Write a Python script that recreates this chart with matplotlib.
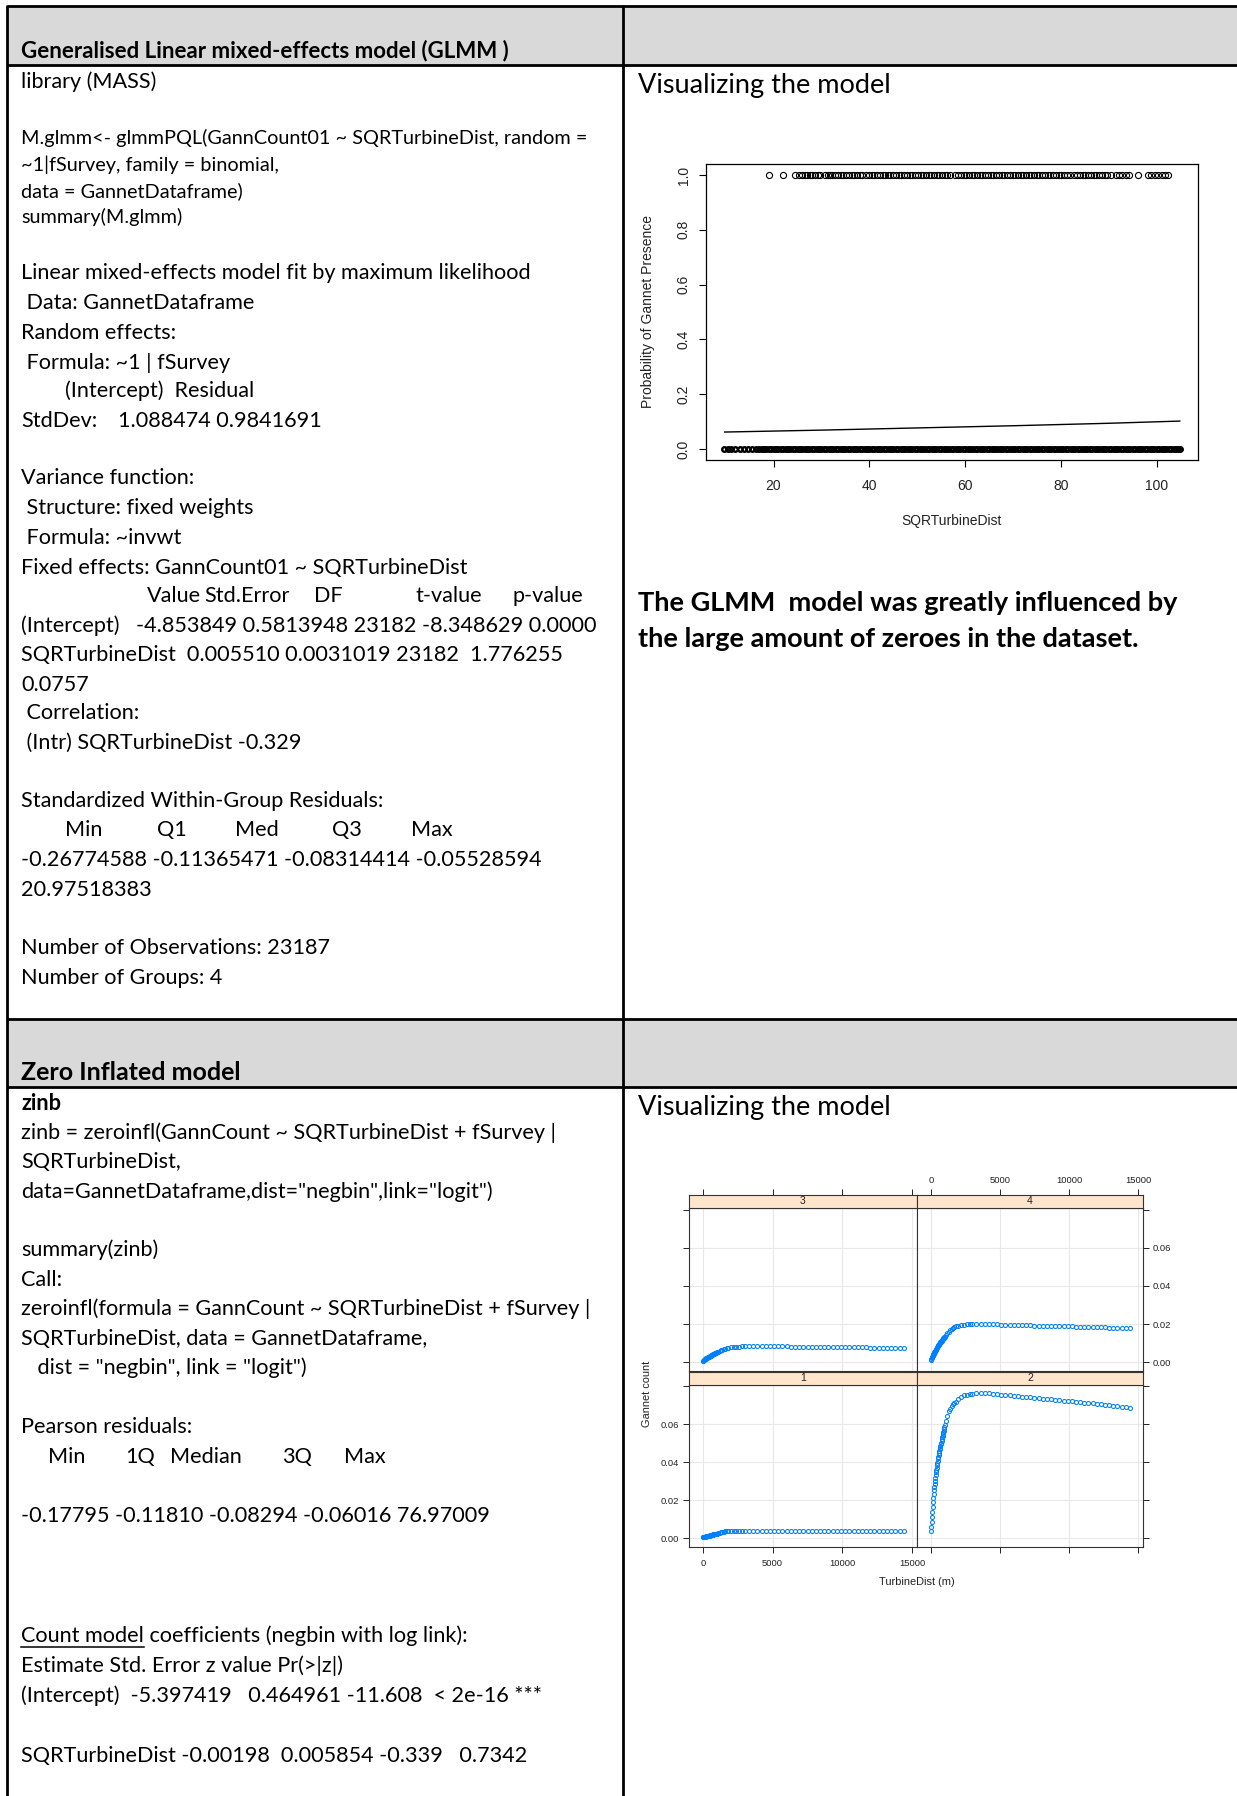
import matplotlib
matplotlib.use("Agg")
import matplotlib.pyplot as plt
from matplotlib.patches import Rectangle

W, H = 1237, 1796
BODY_FONT = "Lato"
PLOT_FONT = "Liberation Sans"

# GLMM plot: SQRTurbineDist of surveys where gannets were present (y = 1)
presence_x = [
    19.0, 21.9, 24.4, 25.4, 26.0, 26.5, 27.0, 27.6, 28.1, 28.7, 29.2, 29.7,
    30.8, 31.3, 31.8, 32.2, 32.9, 33.4, 34.0, 34.6, 35.1, 35.7, 36.3, 36.8,
    37.4, 38.0, 38.5, 39.3, 39.9, 40.5, 41.0, 41.6, 42.2, 42.8, 43.3, 43.9,
    44.4, 45.0, 45.6, 46.1, 46.7, 47.3, 47.8, 48.4, 49.0, 49.5, 50.1, 50.7,
    51.2, 51.8, 52.4, 52.9, 53.5, 54.1, 54.6, 55.2, 55.8, 56.3, 56.9, 57.9,
    58.6, 59.1, 59.7, 60.2, 60.8, 61.4, 61.9, 62.5, 63.1, 63.6, 64.2, 64.8,
    65.3, 65.9, 66.5, 67.0, 67.6, 68.2, 68.7, 69.3, 69.9, 70.4, 71.0, 71.6,
    72.1, 72.7, 73.3, 73.8, 74.4, 75.0, 75.5, 76.1, 76.7, 77.2, 77.8, 78.4,
    78.9, 79.5, 80.1, 80.6, 81.2, 81.8, 82.8, 83.4, 84.0, 84.5, 85.1, 85.7,
    86.2, 86.8, 87.4, 88.0, 88.5, 89.1, 89.7, 90.4, 91.5, 92.2, 92.8, 93.5,
    94.3, 96.1, 98.1, 98.8, 99.6, 100.3, 101.0, 101.7, 102.3,
]
# surveys with no gannets (y = 0) - a near solid band in the picture
absence_x = [
    9.7, 10.4, 11.2, 12.0, 12.9, 13.8, 14.6, 15.5, 16.3, 17.0, 17.5, 18.0,
    18.5, 19.0, 19.5, 20.0, 20.5, 21.0, 21.5, 22.0, 22.5, 23.0,
    23.5, 24.0, 24.5, 25.0, 25.5, 26.0, 26.5, 27.0, 27.5, 28.0,
    28.5, 29.0, 29.5, 30.0, 30.5, 31.0, 31.5, 32.0, 32.5, 33.0,
    33.5, 34.0, 34.5, 35.0, 35.5, 36.0, 36.5, 37.0, 37.5, 38.0,
    38.5, 39.0, 39.5, 40.0, 40.5, 41.0, 41.5, 42.0, 42.5, 43.0,
    43.5, 44.0, 44.5, 45.0, 45.5, 46.0, 46.5, 47.0, 47.5, 48.0,
    48.5, 49.0, 49.5, 50.0, 50.5, 51.0, 51.5, 52.0, 52.5, 53.0,
    53.5, 54.0, 54.5, 55.0, 55.5, 56.0, 56.5, 57.0, 57.5, 58.0,
    58.5, 59.0, 59.5, 60.0, 60.5, 61.0, 61.5, 62.0, 62.5, 63.0,
    63.5, 64.0, 64.5, 65.0, 65.5, 66.0, 66.5, 67.0, 67.5, 68.0,
    68.5, 69.0, 69.5, 70.0, 70.5, 71.0, 71.5, 72.0, 72.5, 73.0,
    73.5, 74.0, 74.5, 75.0, 75.5, 76.0, 76.5, 77.0, 77.5, 78.0,
    78.5, 79.0, 79.5, 80.0, 80.5, 81.0, 81.5, 82.0, 82.5, 83.0,
    83.5, 84.0, 84.5, 85.0, 85.5, 86.0, 86.5, 87.0, 87.5, 88.0,
    88.5, 89.0, 89.5, 90.0, 90.5, 91.0, 91.5, 92.0, 92.5, 93.0,
    93.5, 94.0, 94.5, 95.0, 95.5, 96.0, 96.5, 97.0, 97.5, 98.0,
    98.5, 99.0, 99.5, 100.0, 100.5, 101.0, 101.5, 102.0, 102.5, 103.0,
    103.5, 104.0, 104.5, 104.8,
]
fit_x = [9.8, 30, 50, 70, 90, 104.8]
fit_p = [0.062, 0.069, 0.077, 0.085, 0.094, 0.102]

# Zero inflated model: predicted gannet count vs TurbineDist (m), one panel per survey
turbine_dist = [
    0, 25, 50, 75, 100, 125, 150, 175, 200, 225, 250, 275, 300, 325, 350, 375,
    400, 425, 450, 475, 500, 525, 550, 575, 600, 625, 650, 675, 700, 725, 750,
    775, 800, 825, 850, 875, 900, 925, 950, 975, 1000,
    1100, 1200, 1300, 1400, 1500, 1600, 1700, 1800,
    2000, 2200, 2400, 2600, 2800, 3000,
    3300, 3600, 3900, 4200, 4500, 4800, 5100, 5400, 5700, 6000, 6300, 6600, 6900,
    7200, 7500, 7800, 8100, 8400, 8700, 9000, 9300, 9600, 9900, 10200, 10500,
    10800, 11100, 11400, 11700, 12000, 12300, 12600, 12900, 13200, 13500, 13800,
    14100, 14400,
]
count_survey1 = [
    0.00040, 0.00045, 0.00050, 0.00055, 0.00060, 0.00065, 0.00070, 0.00075, 0.00080, 0.00085,
    0.00090, 0.00095, 0.00100, 0.00105, 0.00110, 0.00115, 0.00120, 0.00125, 0.00130, 0.00135,
    0.00140, 0.00145, 0.00150, 0.00155, 0.00160, 0.00165, 0.00170, 0.00175, 0.00180, 0.00185,
    0.00190, 0.00195, 0.00200, 0.00205, 0.00210, 0.00215, 0.00220, 0.00225, 0.00230, 0.00235,
    0.00240,
    0.0026, 0.0028, 0.0030, 0.0032, 0.0034, 0.0036, 0.0038, 0.0038,
    0.0038, 0.0038, 0.0038, 0.0038, 0.0038, 0.0038,
    0.0038, 0.0038, 0.0038, 0.0038, 0.0038, 0.0038, 0.0038, 0.0038, 0.0038, 0.0038,
    0.0038, 0.0038, 0.0038, 0.0038, 0.0038, 0.0038, 0.0038, 0.0038, 0.0038, 0.0038,
    0.0038, 0.0038, 0.0038, 0.0038, 0.0038, 0.0038, 0.0038, 0.0038, 0.0038, 0.0038,
    0.0038, 0.0038, 0.0038, 0.0038, 0.0038, 0.0038, 0.0038, 0.0038,
]
count_survey2 = [
    0.0035, 0.0060, 0.0085, 0.0110, 0.0140, 0.0165, 0.0188, 0.0210, 0.0232, 0.0252,
    0.0270, 0.0287, 0.0303, 0.0318, 0.0332, 0.0346, 0.0359, 0.0372, 0.0385, 0.0397,
    0.0409, 0.0420, 0.0430, 0.0440, 0.0450, 0.0459, 0.0468, 0.0477, 0.0486, 0.0495,
    0.0504, 0.0513, 0.0522, 0.0531, 0.0540, 0.0549, 0.0558, 0.0567, 0.0576, 0.0585,
    0.0594,
    0.062, 0.0645, 0.067, 0.068, 0.0695, 0.0705, 0.0713, 0.072,
    0.0735, 0.0745, 0.0752, 0.0757, 0.0760, 0.0762,
    0.0763, 0.0763, 0.0763, 0.0763, 0.0762, 0.0759, 0.0757, 0.0755, 0.0752, 0.0750,
    0.0748, 0.0746, 0.0744, 0.0742, 0.0740, 0.0738, 0.0735, 0.0733, 0.0731, 0.0729,
    0.0727, 0.0725, 0.0723, 0.0721, 0.0719, 0.0716, 0.0714, 0.0712, 0.0710, 0.0707,
    0.0705, 0.0702, 0.0700, 0.0697, 0.0694, 0.0692, 0.0689, 0.0686,
]
count_survey3 = [
    0.0007, 0.0008, 0.0010, 0.0011, 0.0013, 0.0014, 0.0016, 0.0017, 0.0018, 0.0019,
    0.0020, 0.0021, 0.0022, 0.0023, 0.0025, 0.0026, 0.0027, 0.0028, 0.0029, 0.0030,
    0.0031, 0.0032, 0.0033, 0.0034, 0.0035, 0.0036, 0.0037, 0.0039, 0.0040, 0.0041,
    0.0042, 0.0043, 0.0044, 0.0045, 0.0046, 0.0047, 0.0048, 0.0049, 0.0050, 0.0051,
    0.0052,
    0.0055, 0.0059, 0.0062, 0.0065, 0.0068, 0.0071, 0.0073, 0.0075,
    0.0077, 0.0079, 0.0080, 0.0081, 0.0082, 0.0082,
    0.0082, 0.0082, 0.0082, 0.0082, 0.0082, 0.0082, 0.0082, 0.0082, 0.0082, 0.0082,
    0.0078, 0.0078, 0.0078, 0.0078, 0.0078, 0.0078, 0.0078, 0.0078, 0.0078, 0.0078,
    0.0078, 0.0078, 0.0078, 0.0078, 0.0078, 0.0078, 0.0078, 0.0078, 0.0078, 0.0073,
    0.0073, 0.0073, 0.0073, 0.0073, 0.0073, 0.0073, 0.0073, 0.0073,
]
count_survey4 = [
    0.0012, 0.0016, 0.0020, 0.0024, 0.0028, 0.0032, 0.0036, 0.0040, 0.0045, 0.0048,
    0.0051, 0.0054, 0.0057, 0.0060, 0.0063, 0.0066, 0.0069, 0.0072, 0.0075, 0.0078,
    0.0082, 0.0085, 0.0088, 0.0091, 0.0094, 0.0097, 0.0099, 0.0102, 0.0104, 0.0107,
    0.0109, 0.0112, 0.0114, 0.0117, 0.0119, 0.0122, 0.0124, 0.0127, 0.0129, 0.0132,
    0.0134,
    0.0143, 0.0152, 0.0160, 0.0169, 0.0174, 0.0178, 0.0183, 0.0187,
    0.0192, 0.0195, 0.0197, 0.0198, 0.0199, 0.0199,
    0.0199, 0.0199, 0.0199, 0.0199, 0.0199, 0.0199, 0.0197, 0.0196, 0.0196, 0.0195,
    0.0195, 0.0194, 0.0193, 0.0193, 0.0192, 0.0192, 0.0191, 0.0190, 0.0190, 0.0189,
    0.0189, 0.0188, 0.0187, 0.0187, 0.0186, 0.0185, 0.0185, 0.0184, 0.0184, 0.0183,
    0.0182, 0.0182, 0.0181, 0.0180, 0.0180, 0.0179, 0.0179, 0.0178,
]
survey_counts = {1: count_survey1, 2: count_survey2, 3: count_survey3, 4: count_survey4}


def fig_rect(x0, y0, x1, y1):
    # pixel box (top-left origin) -> figure fraction
    return [x0 / W, 1 - y1 / H, (x1 - x0) / W, (y1 - y0) / H]


fig = plt.figure(figsize=(W / 100, H / 100), dpi=100)
fig.patch.set_facecolor("white")

# page / table background
bg = fig.add_axes([0, 0, 1, 1])
bg.set_xlim(0, W)
bg.set_ylim(H, 0)
bg.axis("off")

GRAY = "#D9D9D9"
LEFT, MID = 7, 623
bg.add_patch(Rectangle((LEFT, 6), W - LEFT, 59, facecolor=GRAY, edgecolor="none"))
bg.add_patch(Rectangle((LEFT, 1019), W - LEFT, 68, facecolor=GRAY, edgecolor="none"))
for yy in [6, 65, 1019, 1087]:
    bg.plot([LEFT, W], [yy, yy], color="black", lw=2, solid_capstyle="butt")
for xx in [LEFT, MID]:
    bg.plot([xx, xx], [5, H], color="black", lw=2, solid_capstyle="butt")

BODY = 15.6
SMALL = 14.3
HEAD = 16.0
HEAD2 = 18.0
BIG = 19.5
DY = 2


def put(x, y, s, size=BODY, weight="normal"):
    return bg.text(x, y + DY, s, fontsize=size, fontweight=weight, family=BODY_FONT,
                   ha="left", va="center", color="black")


TX = 21
# --- GLMM row ---
put(TX, 49, "Generalised Linear mixed-effects model (GLMM )", HEAD, "bold")
put(TX, 80, "library (MASS)")
put(TX, 136, "M.glmm<- glmmPQL(GannCount01 ~ SQRTurbineDist, random =", SMALL)
put(TX, 163, "~1|fSurvey, family = binomial,", SMALL)
put(TX, 189, "data = GannetDataframe)", SMALL)
put(TX, 215, "summary(M.glmm)", SMALL)
put(TX, 271, "Linear mixed-effects model fit by maximum likelihood")
put(TX, 301, " Data: GannetDataframe")
put(TX, 331, "Random effects:")
put(TX, 361, " Formula: ~1 | fSurvey")
put(65, 389, "(Intercept)  Residual")
put(TX, 419, "StdDev:")
put(118, 419, "1.088474 0.9841691")
put(TX, 476, "Variance function:")
put(TX, 506, " Structure: fixed weights")
put(TX, 536, " Formula: ~invwt")
put(TX, 566, "Fixed effects: GannCount01 ~ SQRTurbineDist")
for xx, word in [(147, "Value"), (204, "Std.Error"), (314, "DF"), (416, "t-value"), (512, "p-value")]:
    put(xx, 594, word)
put(TX, 624, "(Intercept)   -4.853849 0.5813948 23182 -8.348629 0.0000")
put(TX, 653, "SQRTurbineDist  0.005510 0.0031019 23182  1.776255")
put(TX, 683, "0.0757")
put(TX, 711, " Correlation:")
put(TX, 741, " (Intr) SQRTurbineDist -0.329")
put(TX, 799, "Standardized Within-Group Residuals:")
for xx, word in [(65, "Min"), (157, "Q1"), (235, "Med"), (332, "Q3"), (411, "Max")]:
    put(xx, 828, word)
put(TX, 858, "-0.26774588 -0.11365471 -0.08314414 -0.05528594")
put(TX, 888, "20.97518383")
put(TX, 946, "Number of Observations: 23187")
put(TX, 976, "Number of Groups: 4")

# --- Zero inflated row ---
put(TX, 1070, "Zero Inflated model", HEAD2, "bold")
put(TX, 1102, "zinb", weight="bold")
put(TX, 1131, "zinb = zeroinfl(GannCount ~ SQRTurbineDist + fSurvey |")
put(TX, 1160, "SQRTurbineDist,")
put(TX, 1190, 'data=GannetDataframe,dist="negbin",link="logit")')
put(TX, 1248, "summary(zinb)")
put(TX, 1278, "Call:")
put(TX, 1307, "zeroinfl(formula = GannCount ~ SQRTurbineDist + fSurvey |")
put(TX, 1337, "SQRTurbineDist, data = GannetDataframe,")
put(TX, 1366, '   dist = "negbin", link = "logit")')
put(TX, 1425, "Pearson residuals:")
for xx, word in [(48, "Min"), (125, "1Q"), (170, "Median"), (282, "3Q"), (344, "Max")]:
    put(xx, 1455, word)
put(TX, 1514, "-0.17795 -0.11810 -0.08294 -0.06016 76.97009")
cm = put(TX, 1634, "Count model")
put(TX, 1664, "Estimate Std. Error z value Pr(>|z|)")
put(TX, 1694, "(Intercept)  -5.397419   0.464961 -11.608  < 2e-16 ***")
put(TX, 1754, "SQRTurbineDist -0.00198  0.005854 -0.339   0.7342")

# --- right column text ---
put(638, 84, "Visualizing the model", BIG)
put(638, 601, "The GLMM  model was greatly influenced by", BIG, "bold")
put(638, 637, "the large amount of zeroes in the dataset.", BIG, "bold")
put(638, 1105, "Visualizing the model", BIG)

# underline "Count model" and continue the line after it
fig.canvas.draw()
bb = cm.get_window_extent()
inv = bg.transData.inverted()
(ux0, _), (ux1, _) = inv.transform([(bb.x0, bb.y0), (bb.x1, bb.y0)])
bg.plot([ux0, ux1], [1647, 1647], color="black", lw=1.1)
put(ux1, 1634, " coefficients (negbin with log link):")

# ---------------- GLMM plot ----------------
ax1 = fig.add_axes(fig_rect(706, 164, 1198, 460))
# heavy overplotting of the zeros shows as a solid band
ax1.plot(absence_x, [0.0] * len(absence_x), "o", mfc="none", mec="black", ms=3.3, mew=1.7)
ax1.plot(presence_x, [1.0] * len(presence_x), "o", mfc="none", mec="black", ms=4.4, mew=0.8)
ax1.plot(fit_x, fit_p, color="black", lw=1.0)
ax1.set_xlim(5.9, 108.6)
ax1.set_ylim(-0.04, 1.04)
ax1.set_xticks([20, 40, 60, 80, 100])
ax1.set_yticks([0, 0.2, 0.4, 0.6, 0.8, 1.0])
ax1.set_yticklabels(["0.0", "0.2", "0.4", "0.6", "0.8", "1.0"], rotation=90, va="center")
for lab in ax1.get_xticklabels() + ax1.get_yticklabels():
    lab.set_family(PLOT_FONT)
    lab.set_fontsize(10)
    lab.set_color("#222222")
ax1.tick_params(axis="x", direction="out", length=5, width=0.8, pad=9)
ax1.tick_params(axis="y", direction="out", length=5, width=0.8, pad=6)
for sp in ax1.spines.values():
    sp.set_linewidth(0.9)
ax1.text(0.5, -0.206, "SQRTurbineDist", transform=ax1.transAxes, ha="center", va="center",
         family=PLOT_FONT, fontsize=10, color="#222222")
ax1.text(-0.118, 0.5, "Probability of Gannet Presence", transform=ax1.transAxes, rotation=90,
         ha="center", va="center", family=PLOT_FONT, fontsize=10, color="#222222")

# ---------------- lattice-style plot ----------------
panels = {
    3: (689, 1208, 917, 1371),
    4: (917, 1208, 1143, 1371),
    1: (689, 1384.5, 917, 1547),
    2: (917, 1384.5, 1143, 1547),
}
XLIM = (-1000, 15350)
YLIM = (-0.0047, 0.081)
xt = [0, 5000, 10000, 15000]
yt = [0, 0.02, 0.04, 0.06, 0.08]
ytl = ["0.00", "0.02", "0.04", "0.06", ""]
TICK_KW = dict(direction="out", length=4, width=0.7, labelsize=6.8, pad=3, colors="#222222")

for survey, (x0, y0, x1, y1) in panels.items():
    ax = fig.add_axes(fig_rect(x0, y0, x1, y1))
    ax.set_xlim(*XLIM)
    ax.set_ylim(*YLIM)
    for v in xt:
        ax.axvline(v, color="#E8E8E8", lw=0.8, zorder=0)
    for v in yt[:4]:
        ax.axhline(v, color="#E8E8E8", lw=0.8, zorder=0)
    ax.plot(turbine_dist, survey_counts[survey], "o", mfc="none", mec="#0080FF",
            ms=2.9, mew=0.75, zorder=3)
    for sp in ax.spines.values():
        sp.set_linewidth(0.8)
        sp.set_color("#333333")
    ax.set_xticks(xt)
    ax.set_yticks(yt)
    ax.set_yticklabels(ytl)
    ax.tick_params(**TICK_KW)
    left = survey in (1, 3)
    bottom = survey in (1, 2)
    ax.tick_params(axis="y", left=left, right=not left,
                   labelleft=(survey == 1), labelright=(survey == 4))
    ax.tick_params(axis="x", bottom=bottom, top=False,
                   labelbottom=(survey == 1), labeltop=False, pad=5)
    for lab in ax.get_xticklabels() + ax.get_yticklabels():
        lab.set_family(PLOT_FONT)

    # strip on top of each panel
    st = fig.add_axes(fig_rect(x0, y0 - 13, x1, y0))
    st.set_facecolor("#FFE5CC")
    st.set_xlim(*XLIM)
    st.set_yticks([])
    st.set_xticks(xt)
    st.tick_params(**TICK_KW)
    st.tick_params(axis="x", bottom=False, labelbottom=False,
                   top=not bottom, labeltop=(survey == 4))
    for lab in st.get_xticklabels():
        lab.set_family(PLOT_FONT)
    for sp in st.spines.values():
        sp.set_linewidth(0.8)
        sp.set_color("#333333")
    st.text(0.5, 0.5, str(survey), transform=st.transAxes, ha="center", va="center",
            family=PLOT_FONT, fontsize=7.5, color="#222222")

bg.text(917, 1582, "TurbineDist (m)", ha="center", va="center", family=PLOT_FONT,
        fontsize=7.9, color="#222222")
bg.text(647, 1394, "Gannet count", ha="center", va="center", rotation=90,
        family=PLOT_FONT, fontsize=7.9, color="#222222")

fig.savefig("out.png", dpi=100)
